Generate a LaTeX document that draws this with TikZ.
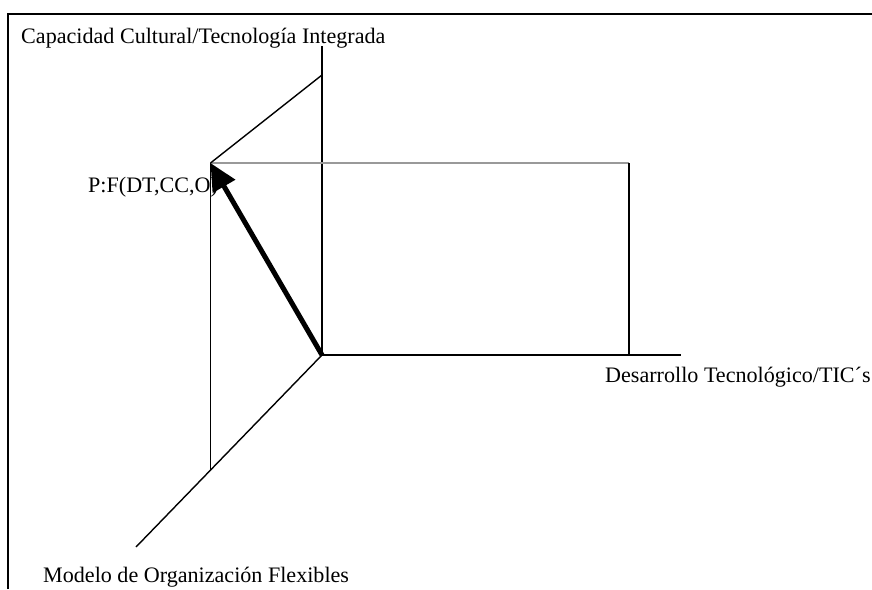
\documentclass[tikz,border=0pt]{standalone}
\usepackage{fontspec}
\setmainfont{Liberation Serif}
\usetikzlibrary{arrows.meta}
\begin{document}
\begin{tikzpicture}[x=1pt,y=-1pt,
  axis/.style={line width=1.4pt,black},
  guide/.style={line width=1.4pt,black!40},
  frame/.style={line width=1.9pt,black},
  vector/.style={line width=5pt,-{Triangle[length=27pt,width=25pt]}},
  lbl/.style={anchor=base west,inner sep=0pt,font=\fontsize{22.1}{24}\selectfont}]
\useasboundingbox (0,0) rectangle (872,589);
% open frame: top and left edges only
\draw[frame] (8,589) -- (8,14) -- (872,14);
% corner points of the projection
\coordinate (O) at (322,355);
\coordinate (P) at (210.5,163);
\coordinate (Ztop) at (322,46);
\coordinate (Zback) at (322,75);
\coordinate (Xend) at (681,355);
\coordinate (Xq) at (629,163);
\coordinate (Xfoot) at (629,355);
\coordinate (Yend) at (136,547);
\coordinate (Pfoot) at (210.5,471);
% labels
\node[lbl] (tZ) at (21,43) {Capacidad Cultural/Tecnología Integrada};
\node[lbl] (tX) at (605,382) {Desarrollo Tecnológico/TIC´s};
\node[lbl] (tY) at (43,582) {Modelo de Organización Flexibles};
\node[lbl] (tP) at (88,192) {P:F(DT,CC,O)};
% axes
\draw[axis] (Ztop) -- (O) -- (Xend);
\draw[axis] (O) -- (Yend);
% projection lines
\draw[guide] (P) -- (Xq);
\draw[axis] (Xq) -- (Xfoot);
\draw[axis] (P) -- (Zback);
\draw[axis] (P) -- (Pfoot);
% position vector
\draw[vector] (O) -- (P);
\end{tikzpicture}
\end{document}
